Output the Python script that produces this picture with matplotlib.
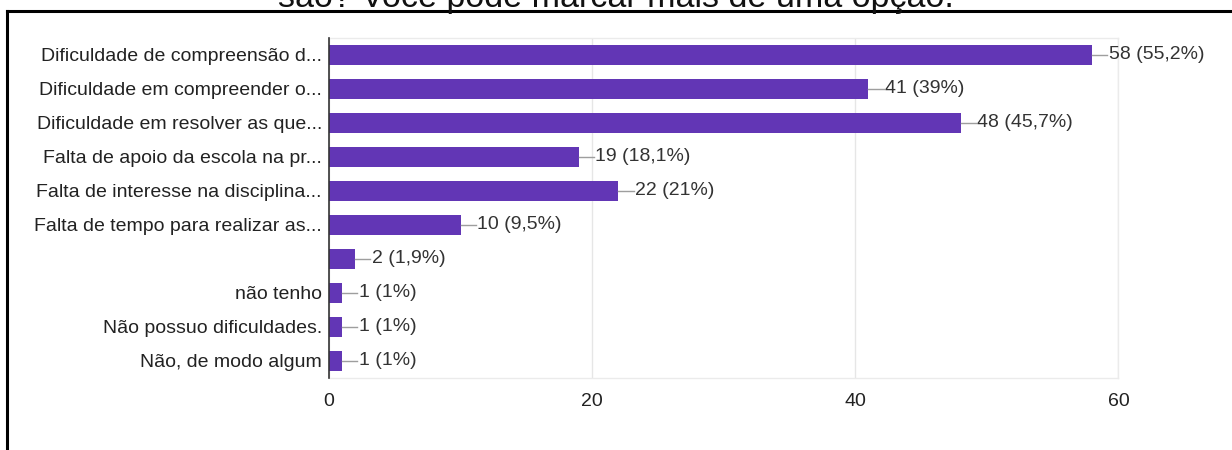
import numpy as np
import matplotlib.pyplot as plt
from matplotlib.lines import Line2D

plt.rcParams['font.family'] = ['Liberation Sans', 'DejaVu Sans']

# respostas (rótulos truncados como no formulário)
categories = [
    'Dificuldade de compreensão d...',
    'Dificuldade em compreender o...',
    'Dificuldade em resolver as que...',
    'Falta de apoio da escola na pr...',
    'Falta de interesse na disciplina...',
    'Falta de tempo para realizar as...',
    '',
    'não tenho',
    'Não possuo dificuldades.',
    'Não, de modo algum',
]
counts = [58, 41, 48, 19, 22, 10, 2, 1, 1, 1]
percents = ['55,2%', '39%', '45,7%', '18,1%', '21%', '9,5%', '1,9%', '1%', '1%', '1%']
xticks = [0, 20, 40, 60]

bar_color = '#6236b5'

fig = plt.figure(figsize=(12.32, 4.5), dpi=100)
ax = fig.add_axes([0.267, 0.16, 0.6408, 0.7556])

y = np.arange(len(categories))
ax.barh(y, counts, height=0.6, color=bar_color, zorder=3)

# rótulo de valor com o tracinho cinza
for yi, c, p in zip(y, counts, percents):
    ax.plot([c, c + 1.15], [yi, yi], color='#9e9e9e', lw=1, zorder=3, clip_on=False)
    ax.text(c + 1.25, yi, f'{c} ({p})', va='center', ha='left',
            fontsize=14, color='#333333', clip_on=False)

ax.set_xlim(0, 60)
ax.set_ylim(len(categories) - 0.5, -0.5)
ax.set_xticks(xticks)
ax.set_yticks(y)
ax.set_yticklabels(categories)
ax.tick_params(axis='both', length=0, labelsize=14, labelcolor='#222222')
ax.tick_params(axis='y', pad=5)
ax.tick_params(axis='x', pad=11)
ax.grid(axis='x', color='#e6e6e6', lw=1, zorder=0)

for side in ['top', 'right', 'bottom']:
    ax.spines[side].set_color('#ebebeb')
    ax.spines[side].set_linewidth(1)
ax.spines['left'].set_color('#333333')
ax.spines['left'].set_linewidth(1.2)
ax.spines['left'].set_zorder(4)

# título cortado no topo
fig.text(0.5, 1 - 7 / 450, 'são? Você pode marcar mais de uma opção.', ha='center',
         va='baseline', fontsize=24.5, color='#111111')

# moldura preta
fig.add_artist(Line2D([7 / 1232, 7 / 1232], [0, 1 - 11 / 450], color='black', lw=2.2))
fig.add_artist(Line2D([7 / 1232, 1], [1 - 11 / 450, 1 - 11 / 450], color='black', lw=2.2))

fig.savefig('out.png', dpi=100)
